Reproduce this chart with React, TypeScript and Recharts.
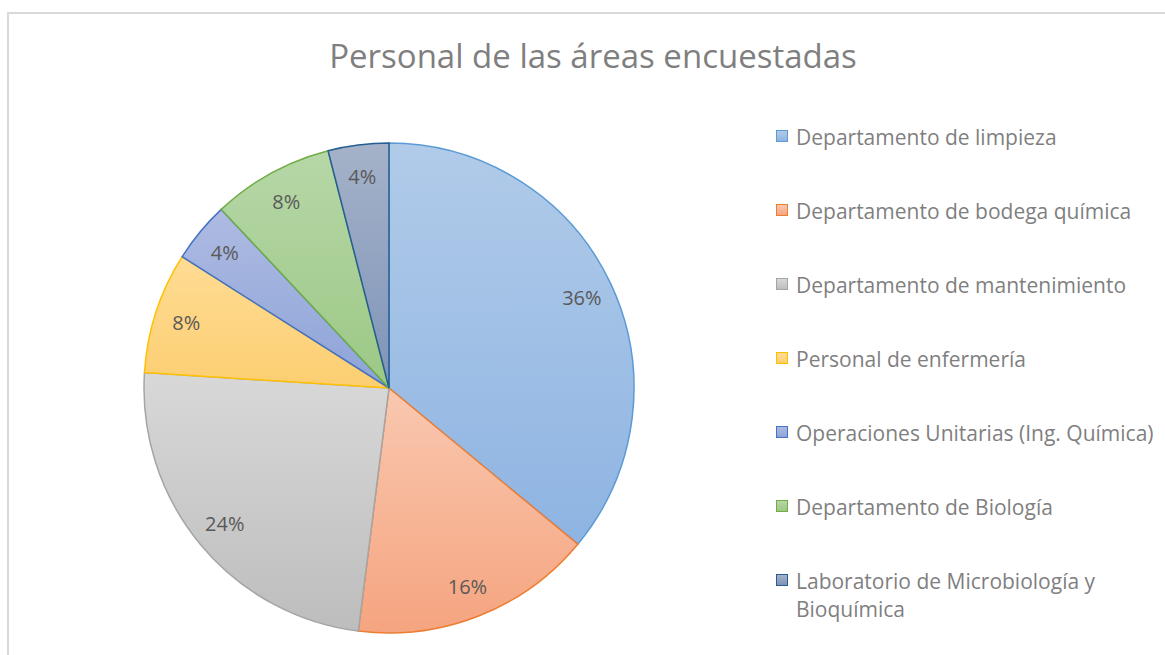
import { PieChart, Pie, Cell } from 'recharts';

const categories = [
  'Departamento de limpieza',
  'Departamento de bodega química',
  'Departamento de mantenimiento',
  'Personal de enfermería',
  'Operaciones Unitarias (Ing. Química)',
  'Departamento de Biología',
  'Laboratorio de Microbiología y Bioquímica',
];
const shares = [36, 16, 24, 8, 4, 8, 4];

const strokeColors = ['#5b9bd5', '#ed7d31', '#a5a5a5', '#ffc000', '#4472c4', '#70ad47', '#255e91'];
const topColors = ['#b1cbe9', '#f9c8b0', '#d8d8d8', '#ffdc94', '#aebbe2', '#b6d7a7', '#a5b2c9'];
const bottomColors = ['#8eb4e2', '#f5a47f', '#bdbdbd', '#fcce72', '#8da4d8', '#9cc885', '#7e94b8'];

const data = categories.map((name, i) => ({ name, value: shares[i] }));

const RADIAN = Math.PI / 180;

function renderLabel(props: any) {
  const { cx, cy, midAngle, outerRadius, value } = props;
  const r = outerRadius * 0.87;
  const x = cx + r * Math.cos(-midAngle * RADIAN);
  const y = cy + r * Math.sin(-midAngle * RADIAN);
  return (
    <text
      x={x}
      y={y}
      fill="#595959"
      fontSize={20}
      fontFamily="'Open Sans', sans-serif"
      textAnchor="middle"
      dominantBaseline="central"
    >
      {`${value}%`}
    </text>
  );
}

function LegendBox() {
  return (
    <div style={{ position: 'absolute', left: 776, top: 123, fontFamily: "'Open Sans', sans-serif" }}>
      {categories.map((name, i) => (
        <div key={name} style={{ position: 'relative', height: 74 }}>
          <div
            style={{
              position: 'absolute',
              left: 0,
              top: 7,
              width: 10,
              height: 10,
              border: `1.5px solid ${strokeColors[i]}`,
              background: `linear-gradient(${topColors[i]}, ${bottomColors[i]})`,
            }}
          />
          <div
            style={{
              position: 'absolute',
              left: 20,
              top: 0,
              width: 372,
              fontSize: 21,
              lineHeight: '28px',
              color: '#7f7f7f',
            }}
          >
            {name}
          </div>
        </div>
      ))}
    </div>
  );
}

export default function App() {
  return (
    <div style={{ position: 'absolute', left: 0, top: 0, width: 1165, height: 655, overflow: 'hidden', background: '#fff' }}>
      <div
        style={{
          position: 'absolute',
          left: 7,
          top: 12,
          width: 1200,
          height: 700,
          border: '2px solid #d9d9d9',
        }}
      />
      <div
        style={{
          position: 'absolute',
          left: 0,
          top: 33,
          width: 1186,
          textAlign: 'center',
          fontFamily: "'Open Sans', sans-serif",
          fontSize: 33,
          lineHeight: '46px',
          color: '#7f7f7f',
        }}
      >
        Personal de las áreas encuestadas
      </div>
      <div style={{ position: 'absolute', left: 0, top: 0 }}>
        <PieChart width={1165} height={655}>
          <defs>
            {categories.map((_, i) => (
              <linearGradient key={i} id={`g${i}`} x1="0" y1="0" x2="0" y2="1">
                <stop offset="0%" stopColor={topColors[i]} />
                <stop offset="100%" stopColor={bottomColors[i]} />
              </linearGradient>
            ))}
          </defs>
          <Pie
            data={data}
            dataKey="value"
            nameKey="name"
            cx={384}
            cy={383}
            outerRadius={245}
            startAngle={90}
            endAngle={-270}
            label={renderLabel}
            labelLine={false}
            isAnimationActive={false}
          >
            {data.map((d, i) => (
              <Cell key={d.name} fill={`url(#g${i})`} stroke={strokeColors[i]} strokeWidth={1.5} />
            ))}
          </Pie>
        </PieChart>
      </div>
      <LegendBox />
    </div>
  );
}
